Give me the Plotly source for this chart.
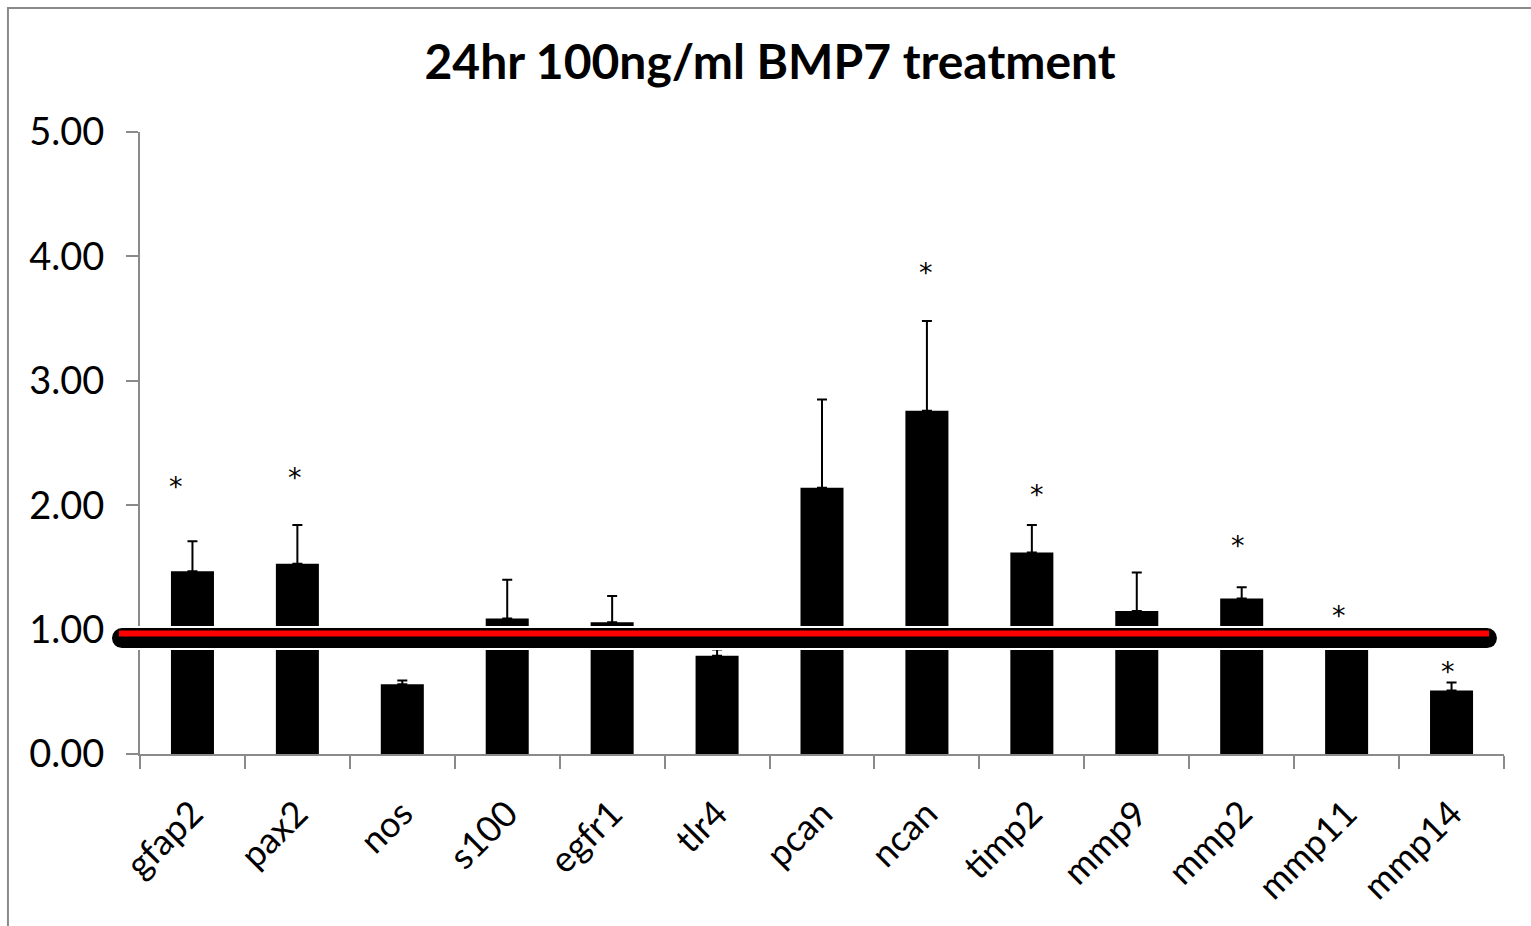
import plotly.graph_objects as go

genes = ["gfap2", "pax2", "nos", "s100", "egfr1", "tlr4", "pcan", "ncan",
         "timp2", "mmp9", "mmp2", "mmp11", "mmp14"]
fold_change = [1.47, 1.53, 0.56, 1.09, 1.06, 0.79, 2.14, 2.76, 1.62, 1.15, 1.25, 0.97, 0.51]
error_plus = [0.24, 0.31, 0.03, 0.31, 0.21, 0.05, 0.71, 0.72, 0.22, 0.31, 0.09, 0.0, 0.065]
sig_genes = ["gfap2", "pax2", "ncan", "timp2", "mmp2", "mmp11", "mmp14"]
sig_y = [2.21, 2.28, 3.93, 2.14, 1.73, 1.17, 0.72]
sig_xshift = [-16, -2, -1, 5, -4, -8, -4]
title_text = "24hr 100ng/ml BMP7 treatment"
ref_level_black = 0.932
ref_level_red = 0.969

FONT = "Lato"

fig = go.Figure()
fig.add_trace(go.Bar(
    x=genes, y=fold_change,
    marker=dict(color="black", line=dict(width=0)),
    error_y=dict(type="data", symmetric=False, array=error_plus,
                 arrayminus=[0] * len(error_plus),
                 color="black", thickness=2, width=5),
    width=0.41,
))

for g, yv, xs in zip(sig_genes, sig_y, sig_xshift):
    fig.add_annotation(x=g, y=yv, text="*", showarrow=False, xshift=xs, yshift=-7,
                       font=dict(family="DejaVu Sans", size=27, color="black"))

shapes = []
# outer frame
shapes.append(dict(type="rect", xref="paper", yref="paper",
                   x0=-0.0968, x1=1.06, y0=-0.35, y1=1.1994,
                   line=dict(color="#8a8a8a", width=2), fillcolor="rgba(0,0,0,0)",
                   layer="below"))
# reference line: white halo, black band, rounded ends, red core
x_left, x_right = -0.0132, 0.9875
shapes.append(dict(type="line", xref="paper", yref="y", x0=x_left, x1=x_right,
                   y0=ref_level_black, y1=ref_level_black,
                   line=dict(color="white", width=24), layer="above"))
shapes.append(dict(type="line", xref="paper", yref="y", x0=x_left, x1=x_right,
                   y0=ref_level_black, y1=ref_level_black,
                   line=dict(color="black", width=20), layer="above"))
for xa in (x_left, x_right):
    shapes.append(dict(type="circle", xref="paper", yref="y",
                       xsizemode="pixel", ysizemode="pixel",
                       xanchor=xa, yanchor=ref_level_black,
                       x0=-10, x1=10, y0=-10, y1=10,
                       fillcolor="black", line=dict(width=0), layer="above"))
shapes.append(dict(type="line", xref="paper", yref="y", x0=-0.0154, x1=0.9890,
                   y0=ref_level_red, y1=ref_level_red,
                   line=dict(color="#ff0000", width=6), layer="above"))

fig.update_layout(
    width=1531, height=926,
    margin=dict(l=140, r=27, t=132, b=172),
    paper_bgcolor="white", plot_bgcolor="white",
    showlegend=False,
    shapes=shapes,
    bargap=0.59,
    title=dict(text="<b>" + title_text + "</b>", x=0.503, xref="container",
               xanchor="center", y=1 - 62 / 926, yanchor="middle",
               font=dict(family=FONT, size=48, color="black")),
    font=dict(family=FONT, color="black"),
)
fig.update_xaxes(
    showline=True, linecolor="#8a8a8a", linewidth=2,
    ticks="outside", tickson="boundaries", ticklen=13, tickwidth=2, tickcolor="#8a8a8a",
    tickangle=-45, tickfont=dict(family=FONT, size=36, color="black"),
    ticklabelstandoff=22,
    showgrid=False, zeroline=False,
)
fig.update_yaxes(
    range=[0, 5], dtick=1, tickformat=".2f",
    showline=True, linecolor="#8a8a8a", linewidth=2,
    ticks="outside", ticklen=12, tickwidth=2, tickcolor="#8a8a8a",
    tickfont=dict(family=FONT, size=38, color="black"),
    ticklabelstandoff=14,
    showgrid=False, zeroline=False,
)

fig.write_html("out.html")
